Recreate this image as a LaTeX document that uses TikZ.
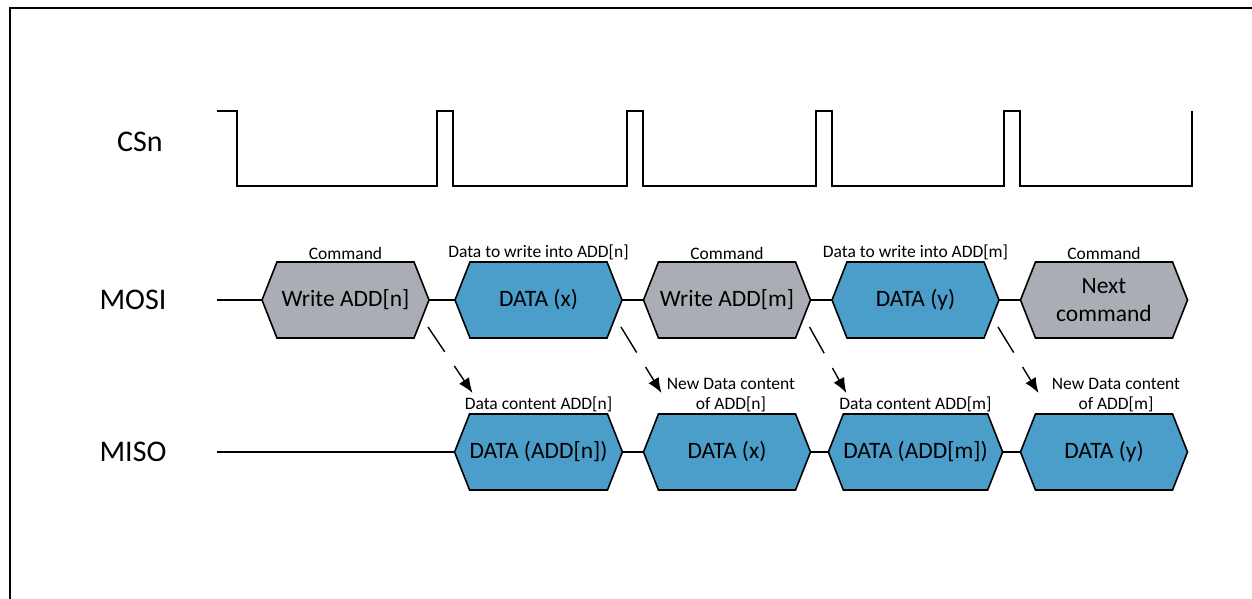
\documentclass[tikz,border=0pt]{standalone}
\usepackage{fontspec}
\setmainfont{Carlito}
\usepackage{tikz}
\usetikzlibrary{arrows.meta,shapes.symbols,positioning,calc}
\definecolor{cmdgrey}{RGB}{170,174,180}
\definecolor{datablue}{RGB}{75,157,202}
\newcommand{\sigfont}{\fontsize{30}{34}\selectfont}
\newcommand{\hexfont}{\fontsize{23.5}{27}\selectfont}
\newcommand{\notefont}{\fontsize{17.5}{20}\selectfont}
\tikzset{
    wire/.style={line width=1.6pt, line join=miter},
    hexbox/.style={signal, signal to=east and west, signal pointer angle=137,
        draw, line width=1.6pt, minimum width=167pt, minimum height=76pt,
        inner sep=0pt, outer sep=0pt, font=\hexfont, align=center},
    hexcmd/.style={hexbox, fill=cmdgrey},
    hexdata/.style={hexbox, fill=datablue},
    signame/.style={font=\sigfont, inner sep=0pt},
    note/.style={font=\notefont, inner sep=0pt, align=center},
    fetch/.style={-{Latex[length=15pt, width=12pt]}, line width=1.4pt,
        dash pattern=on 30pt off 17pt}
}

\begin{document}
\begin{tikzpicture}[x=1pt, y=-1pt, node distance=21.5pt]
    \useasboundingbox (0,0) rectangle (1252,599);
    \draw[line width=2.2pt] (10,599) -- (10,8) -- (1252,8);

    % signal names
    \node[signame] (csn) at (140,142) {CSn};
    \node[signame] (mosi) at (133,300) {MOSI};
    \node[signame] (miso) at (133,452) {MISO};

    % chip select
    \draw[wire] (217,111) -- (237,111) -- (237,186) -- (437,186) -- (437,111)
        -- (453,111) -- (453,186) -- (627,186) -- (627,111) -- (643,111)
        -- (643,186) -- (816,186) -- (816,111) -- (832,111) -- (832,186)
        -- (1004,186) -- (1004,111) -- (1020,111) -- (1020,186) -- (1192,186)
        -- (1192,111);

    % MOSI
    \coordinate (mosistart) at (217,300);
    \node[hexcmd] (w1) at (345.5,300) {Write ADD[n]};
    \node[hexdata, right=26pt of w1] (d1) {DATA (x)};
    \node[hexcmd, right=of d1] (w2) {Write ADD[m]};
    \node[hexdata, right=of w2] (d2) {DATA (y)};
    \node[hexcmd, right=of d2] (nx) {Next\\[1pt]command};

    \draw[wire] (mosistart) -- (w1.west);
    \draw[wire] (w1.east) -- (d1.west);
    \draw[wire] (d1.east) -- (w2.west);
    \draw[wire] (w2.east) -- (d2.west);
    \draw[wire] (d2.east) -- (nx.west);

    \node[note, above=2pt of w1] {Command};
    \node[note, above=2pt of d1] {Data to write into ADD[n]};
    \node[note, above=2pt of w2] {Command};
    \node[note, above=2pt of d2] {Data to write into ADD[m]};
    \node[note, above=2pt of nx] {Command};

    % MISO
    \coordinate (misostart) at (217,452);
    \node[hexdata, below=76pt of d1] (r1) {DATA (ADD[n])};
    \node[hexdata, below=76pt of w2] (r2) {DATA (x)};
    \node[hexdata, below=76pt of d2] (r3) {DATA (ADD[m])};
    \node[hexdata, below=76pt of nx] (r4) {DATA (y)};

    \draw[wire] (misostart) -- (r1.west);
    \draw[wire] (r1.east) -- (r2.west);
    \draw[wire] (r2.east) -- (r3.west);
    \draw[wire] (r3.east) -- (r4.west);

    \node[note, above=2pt of r1] {Data content ADD[n]};
    \node[note, above=2pt of r2, xshift=4pt] {New Data content\\of ADD[n]};
    \node[note, above=2pt of r3] {Data content ADD[m]};
    \node[note, above=2pt of r4, xshift=12pt] {New Data content\\of ADD[m]};

    % read back
    \draw[fetch] ($(w1.east)+(-1,27)$) -- ($(r1.west)+(18,-59)$);
    \draw[fetch] ($(d1.east)+(-1,27)$) -- ($(r2.west)+(18,-59)$);
    \draw[fetch] ($(w2.east)+(-1,27)$) -- ($(r3.west)+(18,-59)$);
    \draw[fetch] ($(d2.east)+(-1,27)$) -- ($(r4.west)+(18,-59)$);
\end{tikzpicture}
\end{document}
